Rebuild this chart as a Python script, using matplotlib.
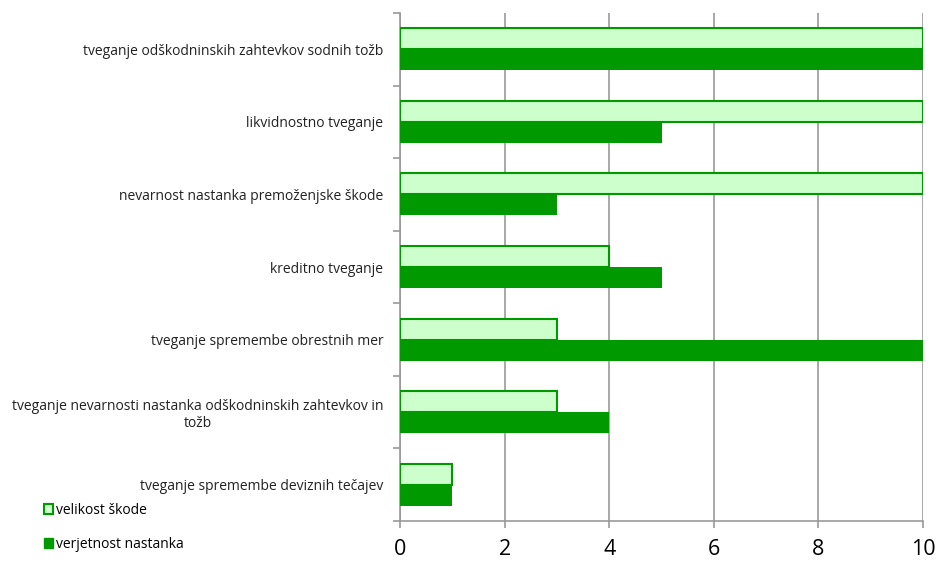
import numpy as np
import matplotlib
matplotlib.use("Agg")
import matplotlib.pyplot as plt
from matplotlib.patches import Patch

plt.rcParams['font.family'] = ['Open Sans', 'DejaVu Sans']

kategorije = [
    "tveganje odškodninskih zahtevkov sodnih tožb",
    "likvidnostno tveganje",
    "nevarnost nastanka premoženjske škode",
    "kreditno tveganje",
    "tveganje spremembe obrestnih mer",
    "tveganje nevarnosti nastanka odškodninskih zahtevkov in\ntožb",
    "tveganje spremembe deviznih tečajev",
]
velikost_skode = [10, 10, 10, 4, 3, 3, 1]
verjetnost_nastanka = [10, 5, 3, 5, 10, 4, 1]

svetla = '#ccffcc'
temna = '#009900'
siva = '#999999'

fig = plt.figure(figsize=(9.38, 5.65), dpi=100)
ax = fig.add_axes([400/938, 1 - 521/565, 523/938, 508/565])

n = len(kategorije)
y = np.arange(n)
h = 0.29
ax.barh(y - h/2, velikost_skode, height=h, color=svetla, edgecolor=temna, linewidth=1.5, zorder=3)
ax.barh(y + h/2, verjetnost_nastanka, height=h, color=temna, edgecolor=temna, linewidth=0, zorder=3)

ax.set_ylim(n - 0.5, -0.5)
ax.set_xlim(0, 10)
ax.set_xticks([0, 2, 4, 6, 8, 10])
ax.set_yticks(y)
ax.set_yticklabels(kategorije, fontsize=10, color='#222222')
for lab in ax.get_yticklabels():
    lab.set_multialignment('center')
ax.tick_params(axis='y', which='major', length=0, pad=12)
ax.set_yticks(np.arange(n + 1) - 0.5, minor=True)
ax.tick_params(axis='y', which='minor', length=5, color=siva, width=1.2)
ax.tick_params(axis='x', length=5, color=siva, width=1.2, labelsize=15.5, pad=8)

ax.grid(axis='x', color=siva, linewidth=1.2, zorder=0)
for s in ['top', 'right']:
    ax.spines[s].set_visible(False)
for s in ['left', 'bottom']:
    ax.spines[s].set_color(siva)
    ax.spines[s].set_linewidth(1.2)

handles = [Patch(facecolor=svetla, edgecolor=temna, linewidth=1.5),
           Patch(facecolor=temna, edgecolor=temna)]
fig.legend(handles, ['velikost škode', 'verjetnost nastanka'],
           loc='upper left', bbox_to_anchor=(31/938, 1 - 490/565),
           frameon=False, fontsize=10, handlelength=0.7, handleheight=0.7,
           handletextpad=0.2, labelspacing=1.4)

fig.savefig('out.png', dpi=100)
